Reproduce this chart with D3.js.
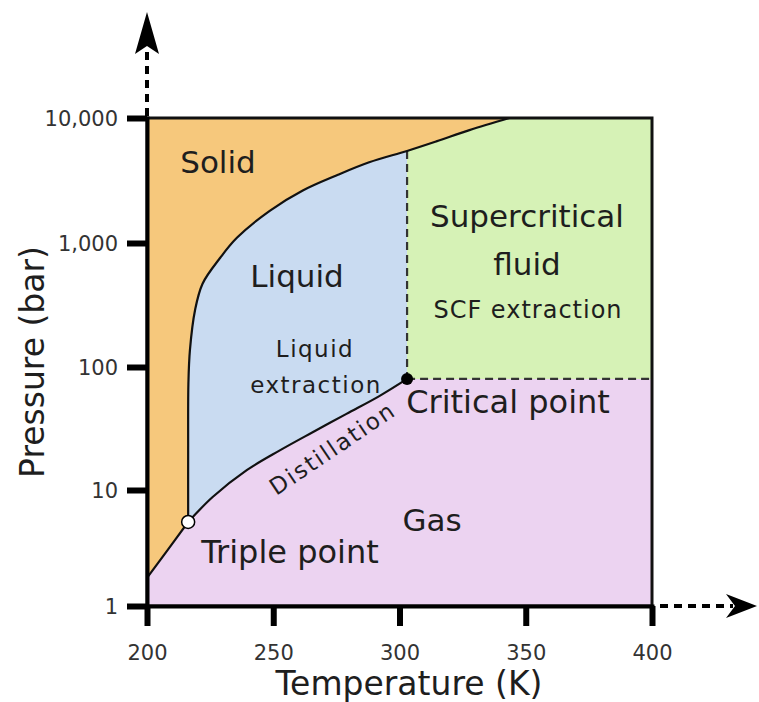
<!DOCTYPE html>
<html>
<head>
<meta charset="utf-8">
<script src="https://cdn.jsdelivr.net/npm/d3@7"></script>
<style>
  body { margin: 0; background: #fff; }
  text { font-family: "DejaVu Sans", Verdana, sans-serif; }
</style>
</head>
<body>
<div id="vis"></div>
<script>
// phase diagram of CO2

const tempTicks = [200, 250, 300, 350, 400];
const pressureTicks = [1, 10, 100, 1000, 10000];
const pressureLabels = ["1", "10", "100", "1,000", "10,000"];

const triplePoint = [216.3, 5.3];
const criticalPoint = [303, 80];

// [temperature K, pressure bar]
const sublimation = [[200, 1.75], [208, 3.0], [216.3, 5.3]];
const melting = [[216.3, 5.3], [216.3, 21], [216.4, 74], [217, 137], [219, 286], [222, 470],
  [229, 760], [235.6, 1100], [248.6, 1810], [261.7, 2630], [275, 3470], [288, 4420],
  [303, 5450], [314.6, 6500], [327.7, 8000], [343.5, 10000]];
const vaporization = [[216.3, 5.3], [226, 8.7], [239.5, 14.5], [252.6, 21], [265.6, 29.5],
  [279, 41.6], [292, 58], [303, 80]];

const width = 759, height = 702;

const svg = d3.select('#vis')
  .append('svg')
  .attr('width', width)
  .attr('height', height);

// scales (the picture's decades are not quite even, so the log scale is piecewise)
const x = d3.scaleLinear().domain([200, 400]).range([147, 652]);
const y = d3.scaleLog().domain(pressureTicks).range([606, 490, 367, 243, 118]);

const line = d3.line()
  .x(d => x(d[0]))
  .y(d => y(d[1]))
  .curve(d3.curveCatmullRom.alpha(0.5));

const seg = pts => 'L' + line(pts).slice(1);
const pt = d => `L${x(d[0])},${y(d[1])}`;

const tc = criticalPoint[0];
const meltLow = melting.filter(d => d[0] <= tc);
const meltHigh = melting.filter(d => d[0] >= tc);
const pTop = d3.max(pressureTicks), pBottom = d3.min(pressureTicks);

// region fills
const regions = [
  { name: 'gas', fill: '#ecd3f1',
    d: `M${x(200)},${y(pBottom)}` + seg(sublimation) + seg(vaporization) +
       pt([400, criticalPoint[1]]) + pt([400, pBottom]) + 'Z' },
  { name: 'solid', fill: '#f6c87c',
    d: `M${x(200)},${y(pTop)}` + seg(sublimation) + seg(melting) + 'Z' },
  { name: 'liquid', fill: '#c9dbf1',
    d: 'M' + line(meltLow).slice(1) + pt(criticalPoint) + seg(vaporization.slice().reverse()) + 'Z' },
  { name: 'scf', fill: '#d6f2b6',
    d: 'M' + line(meltHigh).slice(1) + pt([400, pTop]) + pt([400, criticalPoint[1]]) +
       pt(criticalPoint) + 'Z' }
];

svg.append('g')
  .selectAll('path')
  .data(regions)
  .join('path')
  .attr('d', d => d.d)
  .attr('fill', d => d.fill);

// dashed supercritical boundaries
const dashed = svg.append('g')
  .attr('stroke', '#333')
  .attr('stroke-width', 2.2)
  .attr('stroke-dasharray', '8,5')
  .attr('fill', 'none');
dashed.append('line')
  .attr('x1', x(tc)).attr('x2', x(tc))
  .attr('y1', y(meltLow[meltLow.length - 1][1])).attr('y2', y(criticalPoint[1]));
dashed.append('line')
  .attr('x1', x(tc)).attr('x2', x(400))
  .attr('y1', y(criticalPoint[1])).attr('y2', y(criticalPoint[1]));

// phase boundaries
svg.append('g')
  .selectAll('path')
  .data([sublimation, melting, vaporization])
  .join('path')
  .attr('d', d => line(d))
  .attr('fill', 'none')
  .attr('stroke', '#111')
  .attr('stroke-width', 2.2);

// plot frame
svg.append('rect')
  .attr('x', x(200)).attr('y', y(pTop))
  .attr('width', x(400) - x(200)).attr('height', y(pBottom) - y(pTop))
  .attr('fill', 'none')
  .attr('stroke', '#111')
  .attr('stroke-width', 3);

// axes
const xAxis = svg.append('g')
  .attr('transform', `translate(0,${y(pBottom)})`)
  .call(d3.axisBottom(x).tickValues(tempTicks).tickSize(20).tickPadding(19));
const yAxis = svg.append('g')
  .attr('transform', `translate(${x(200)},0)`)
  .call(d3.axisLeft(y).tickValues(pressureTicks).tickSize(20).tickPadding(9)
    .tickFormat((d, i) => pressureLabels[i]));

[xAxis, yAxis].forEach(g => {
  g.select('.domain').attr('stroke', '#000').attr('stroke-width', 4);
  g.selectAll('.tick line').attr('stroke', '#000').attr('stroke-width', 6);
  g.selectAll('.tick text').attr('fill', '#333').attr('font-size', 21)
    .attr('font-family', '"DejaVu Sans", Verdana, sans-serif');
});
yAxis.selectAll('.tick text').attr('dy', '0.36em');

// dashed arrows past the plot
const arrows = svg.append('g');
arrows.append('line')
  .attr('x1', x(200)).attr('x2', x(200))
  .attr('y1', y(pTop) - 2).attr('y2', 48)
  .attr('stroke', '#000').attr('stroke-width', 4).attr('stroke-dasharray', '8,6');
arrows.append('path')
  .attr('d', `M${x(200)},12 L${x(200) - 12},54 L${x(200)},46 L${x(200) + 12},54 Z`)
  .attr('fill', '#000');
arrows.append('line')
  .attr('x1', x(400) + 8).attr('x2', 733)
  .attr('y1', y(pBottom)).attr('y2', y(pBottom))
  .attr('stroke', '#000').attr('stroke-width', 4).attr('stroke-dasharray', '8,6');
arrows.append('path')
  .attr('d', `M757,${y(pBottom)} L726,${y(pBottom) - 12} L735,${y(pBottom)} L726,${y(pBottom) + 12} Z`)
  .attr('fill', '#000');

// special points
svg.append('circle')
  .attr('cx', x(criticalPoint[0])).attr('cy', y(criticalPoint[1]))
  .attr('r', 6).attr('fill', '#000');
svg.append('circle')
  .attr('cx', x(triplePoint[0])).attr('cy', y(triplePoint[1]))
  .attr('r', 6.5).attr('fill', '#fff').attr('stroke', '#000').attr('stroke-width', 1.5);

// labels
const labels = [
  { t: 'Solid', x: 218, y: 173, s: 31 },
  { t: 'Liquid', x: 297, y: 287, s: 31 },
  { t: 'Supercritical', x: 527, y: 227, s: 31 },
  { t: 'fluid', x: 527, y: 275, s: 31 },
  { t: 'SCF extraction', x: 528, y: 318, s: 24, ls: 1 },
  { t: 'Liquid', x: 315, y: 357, s: 23, ls: 1.5 },
  { t: 'extraction', x: 316, y: 393, s: 23, ls: 1.5 },
  { t: 'Critical point', x: 508, y: 413, s: 32 },
  { t: 'Gas', x: 432, y: 531, s: 31 },
  { t: 'Triple point', x: 290, y: 563, s: 32 }
];
svg.append('g')
  .selectAll('text')
  .data(labels)
  .join('text')
  .attr('x', d => d.x)
  .attr('y', d => d.y)
  .attr('text-anchor', 'middle')
  .attr('font-size', d => d.s)
  .attr('letter-spacing', d => d.ls || 0)
  .attr('fill', '#1e1e1e')
  .text(d => d.t);

svg.append('text')
  .attr('transform', 'translate(337,455) rotate(-34)')
  .attr('text-anchor', 'middle')
  .attr('font-size', 23)
  .attr('letter-spacing', 2)
  .attr('fill', '#1e1e1e')
  .text('Distillation');

// axis titles
svg.append('text')
  .attr('x', 409).attr('y', 695)
  .attr('text-anchor', 'middle')
  .attr('font-size', 33)
  .attr('fill', '#1e1e1e')
  .text('Temperature (K)');
svg.append('text')
  .attr('transform', 'translate(44,362) rotate(-90)')
  .attr('text-anchor', 'middle')
  .attr('font-size', 33)
  .attr('fill', '#1e1e1e')
  .text('Pressure (bar)');
</script>
</body>
</html>
